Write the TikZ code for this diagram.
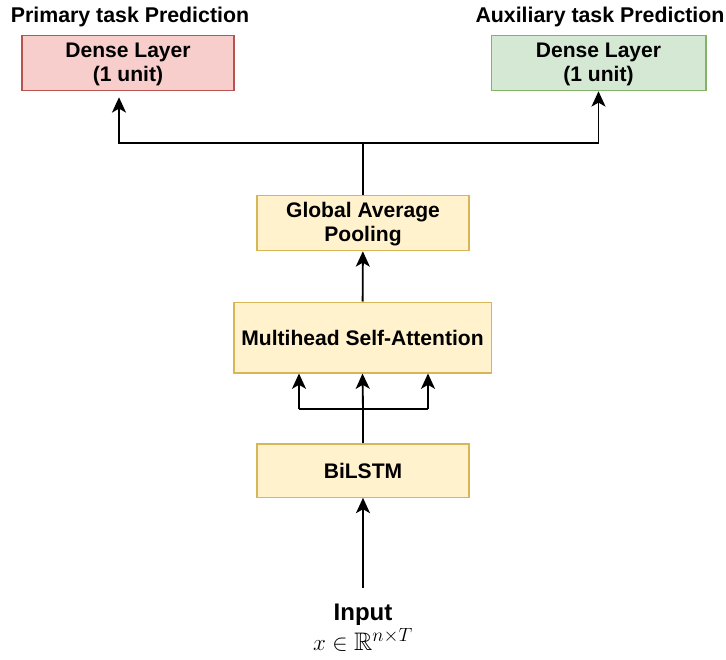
\documentclass[tikz,border=0pt]{standalone}
\usepackage{fontspec}
\setmainfont{Liberation Sans}
\usepackage{amsmath,amssymb}
\usetikzlibrary{arrows.meta, positioning, calc}
\definecolor{primFill}{HTML}{F8CECC}
\definecolor{primLine}{HTML}{B85450}
\definecolor{auxFill}{HTML}{D5E8D4}
\definecolor{auxLine}{HTML}{82B366}
\definecolor{layerFill}{HTML}{FFF2CC}
\definecolor{layerLine}{HTML}{D6B656}

\begin{document}
\begin{tikzpicture}[
  x=0.75pt, y=-0.75pt,
  layer/.style={draw=layerLine, fill=layerFill, line width=1pt, align=center, font=\fontsize{15.8}{18.5}\selectfont\bfseries},
  headprim/.style={layer, draw=primLine, fill=primFill, minimum width=159pt, minimum height=39pt},
  headaux/.style={layer, draw=auxLine, fill=auxFill, minimum width=161pt, minimum height=39pt},
  title/.style={font=\fontsize{16}{18}\selectfont\bfseries, inner sep=0pt},
  arrow/.style={-{Stealth[length=11.5pt, width=10.5pt, inset=3pt]}, line width=1.4pt}
]
\useasboundingbox (0,0) rectangle (726,660);

% output heads
\node[title] (primtitle) at (130,17) {Primary task Prediction};
\node[title] (auxtitle) at (600,17) {Auxiliary task Prediction};
\node[headprim] (dense1) at (128,63) {\strut Dense Layer\\(1 unit)};
\node[headaux] (dense2) at (598.5,63) {\strut Dense Layer\\(1 unit)};

% shared trunk
\node[layer, minimum width=159pt, minimum height=40.5pt] (gap) at (363,223) {\strut Global Average\\Pooling};
\node[layer, minimum width=193pt, minimum height=53pt] (msa) at (362.5,337.5) {Multihead Self-Attention};
\node[layer, minimum width=159pt, minimum height=40pt] (bilstm) at (363,470.5) {BiLSTM};

% input
\node[font=\fontsize{18}{20}\selectfont\bfseries, inner sep=0pt] (inp) at (363,615) {Input};
\node[font=\fontsize{19}{21}\selectfont, inner sep=0pt] (inpdim) at (363,640) {$x \in \mathbb{R}^{n \times T}$};

\coordinate (fork) at (363,143);
\coordinate (forkL) at (119,143);
\coordinate (split) at (363,409);
\coordinate (splitL) at (299,409);
\coordinate (splitR) at (428,409);

\draw[arrow] (inp.north) ++(0,-16) -- (bilstm.south);
\draw[line width=1.4pt] (bilstm.north) -- (split);
\draw[line width=1.4pt] (splitL) -- (splitR);
\draw[arrow] (split) -- (msa.south);
\draw[arrow] (splitL) -- (splitL |- msa.south);
\draw[arrow] (splitR) -- (splitR |- msa.south);
\draw[arrow] (msa) -- (gap);
\draw[line width=1.4pt] (gap.north) -- (fork);
\draw[arrow, shorten >=4.5pt] (fork) -- (forkL) -- (forkL |- dense1.south);
\draw[arrow] (fork) -| (dense2.south);
\end{tikzpicture}
\end{document}
